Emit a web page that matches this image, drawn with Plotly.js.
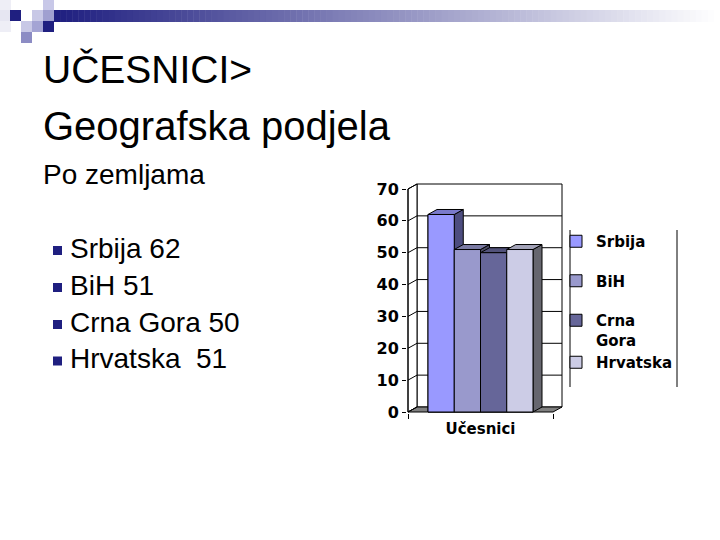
<!DOCTYPE html>
<html><head><meta charset="utf-8">
<script src="https://cdn.plot.ly/plotly-3.0.1.min.js"></script>
<style>html,body{margin:0;padding:0;background:#fff}#chart{width:720px;height:540px}</style>
</head><body><div id="chart"></div>
<script>
// ---- data ----
const titleLines = ['UČESNICI>', 'Geografska podjela'];
const subtitleText = 'Po zemljama';
const categories = ['Učesnici'];
const seriesNames = ['Srbija', 'BiH', 'Crna Gora', 'Hrvatska'];
const seriesValues = [62, 51, 50, 51];
const bulletTexts = ['Srbija 62', 'BiH 51', 'Crna Gora 50', 'Hrvatska\u00a0 51'];
const yTickVals = [0, 10, 20, 30, 40, 50, 60, 70];
const yTickText = ['0', '10', '20', '30', '40', '50', '60', '70'];

// ---- styles ----
const frontColors = ['#9999FF', '#9999CC', '#666699', '#CCCCE6'];
const topColors = ['#7A7ACC', '#7A7AA3', '#52527A', '#A3A3B8'];
const sideColors = ['#4D4D80', '#4D4D66', '#33334D', '#66666F'];
const legendGroups = ['g0', 'g1', 'g2', 'g2'];
const navy = '#1F1F80';

// ---- geometry (pixels) ----
const L = 407, R = 563, T = 183, B = 413;
const W = R - L, H = B - T;
const XPPU = 145, YPPU = 223 / 70;
const DX = 9 / XPPU, DY = 5 / YPPU;
const YMAX = 70;
const BARGAP = 1 - 105 / 145;
const px = v => (v - L) / W;
const py = v => (B - v) / H;

const traces = [];
const G = 1 - BARGAP, w = G / seriesNames.length;
seriesNames.forEach((n, i) => {
  traces.push({
    type: 'bar', x: categories.map((c, k) => k), y: [seriesValues[i]],
    name: n.replace(' ', '<br>'), legendgroup: legendGroups[i],
    marker: {color: frontColors[i], line: {color: '#000', width: 1}},
    hoverinfo: 'name+y'
  });
});
seriesNames.forEach((n, i) => {
  const x0 = -G / 2 + i * w, x1 = x0 + w, v = seriesValues[i];
  const face = (xs, ys, col) => ({
    type: 'scatter', mode: 'lines', x: xs, y: ys, fill: 'toself', fillcolor: col,
    line: {color: '#000', width: 1}, showlegend: false, hoverinfo: 'skip'
  });
  traces.push(face([x1, x1, x1 + DX, x1 + DX, x1], [0, v, v + DY, DY, 0], sideColors[i]));
  traces.push(face([x0, x1, x1 + DX, x0 + DX, x0], [v, v, v + DY, v + DY, v], topColors[i]));
  traces.push(face([x0, x1, x1, x0, x0], [0, 0, v, v, 0], frontColors[i]));
});

// ---- shapes ----
const shapes = [];
const xl = -0.5, xr = 0.5;
// back wall
shapes.push({type: 'rect', xref: 'x', yref: 'y', layer: 'below', x0: xl + DX, x1: xr + DX, y0: DY, y1: YMAX + DY,
  fillcolor: '#fff', line: {color: '#000', width: 1}});
// left wall
shapes.push({type: 'path', xref: 'x', yref: 'y', layer: 'below',
  path: `M${xl},0 L${xl},${YMAX} L${xl + DX},${YMAX + DY} L${xl + DX},${DY} Z`,
  fillcolor: '#fff', line: {color: '#000', width: 1}});
// floor
shapes.push({type: 'path', xref: 'x', yref: 'y', layer: 'below',
  path: `M${xl},0 L${xr},0 L${xr + DX},${DY} L${xl + DX},${DY} Z`,
  fillcolor: '#808080', line: {color: '#000', width: 1}});
// gridlines
yTickVals.forEach(v => {
  if (v > 0 && v < YMAX) {
    shapes.push({type: 'line', xref: 'x', yref: 'y', layer: 'below', x0: xl + DX, x1: xr + DX, y0: v + DY, y1: v + DY,
      line: {color: '#000', width: 1}});
  }
  shapes.push({type: 'line', xref: 'x', yref: 'y', layer: 'below', x0: xl, x1: xl + DX, y0: v, y1: v + DY,
    line: {color: '#000', width: 1}});
});
// front axis line
shapes.push({type: 'line', xref: 'x', yref: 'y', layer: 'above', x0: xl, x1: xl, y0: 0, y1: YMAX,
  line: {color: '#000', width: 1}});
// legend frame (side lines)
[570, 677].forEach(xp => shapes.push({type: 'line', xref: 'paper', yref: 'paper', x0: px(xp), x1: px(xp),
  y0: py(230), y1: py(387), line: {color: '#000', width: 1}}));

// top-left decoration
const gx0 = 54, gx1 = 720, steps = 110;
for (let k = 0; k < steps; k++) {
  const t = k / (steps - 1);
  const r = Math.round(31 + (255 - 31) * t), g = Math.round(31 + (255 - 31) * t), b = Math.round(128 + (255 - 128) * t);
  const a = gx0 + (gx1 - gx0) * k / steps, c = gx0 + (gx1 - gx0) * (k + 1) / steps + 0.5;
  shapes.push({type: 'rect', xref: 'paper', yref: 'paper', layer: 'below', x0: px(a), x1: px(c), y0: py(22), y1: py(10),
    fillcolor: `rgb(${r},${g},${b})`, line: {width: 0}});
}
const squares = [
  [0, 0, '#EEEEF6'], [43, 0, '#C8C8E8'],
  [0, 10, '#E6E6F2'], [10, 10, navy], [32, 10, '#C8C8E6'], [43, 10, '#A0A0D0'],
  [0, 21, '#EEEEF6'], [21, 21, '#C8C8E6'], [32, 21, '#A4A4D4'], [43, 21, navy],
  [21, 32, '#8C8CC4']
];
squares.forEach(([sx, sy, col]) => shapes.push({type: 'rect', xref: 'paper', yref: 'paper', layer: 'below',
  x0: px(sx), x1: px(sx + 11), y0: py(sy + 11), y1: py(sy), fillcolor: col, line: {width: 0}}));

// bullets
const bulletBase = [258, 295, 332, 368.5];
bulletBase.forEach(bl => shapes.push({type: 'rect', xref: 'paper', yref: 'paper',
  x0: px(53), x1: px(62), y0: py(bl - 3), y1: py(bl - 12), fillcolor: navy, line: {width: 0}}));

// ---- annotations ----
const ann = [];
const txt = (text, x, y, size) => ({xref: 'paper', yref: 'paper', x: px(x), y: py(y), xanchor: 'left', yanchor: 'middle',
  showarrow: false, text: text, font: {family: 'Liberation Sans, Arial, sans-serif', size: size, color: '#000'}});
ann.push(txt(titleLines[0], 41, 83.3 - 0.3465 * 39, 39));
ann.push(txt(titleLines[1], 41, 140 - 0.3465 * 40, 40));
ann.push(txt(subtitleText, 41, 184 - 0.3465 * 28, 28));
bulletTexts.forEach((t, i) => ann.push(txt(t, 68, bulletBase[i] - 0.3465 * 28, 28)));

const boldFont = s => ({family: 'DejaVu Sans, Verdana, sans-serif', size: s, color: '#000', weight: 'bold'});

const layout = {
  width: 720, height: 540,
  margin: {l: L, r: 720 - R, t: T, b: 540 - B, pad: 0, autoexpand: false},
  paper_bgcolor: '#fff', plot_bgcolor: 'rgba(0,0,0,0)',
  barmode: 'group', bargap: BARGAP, bargroupgap: 0,
  showlegend: true,
  legend: {xref: 'container', yref: 'container', x: 556 / 720, y: 1 - 225 / 540, xanchor: 'left', yanchor: 'top',
    font: boldFont(15), traceorder: 'grouped', tracegroupgap: 17, valign: 'top', bgcolor: 'rgba(0,0,0,0)'},
  xaxis: {type: 'linear', range: [-0.5 - 1 / XPPU, 0.5 + DX + 1 / XPPU], fixedrange: true, automargin: false,
    tickmode: 'array', tickvals: categories.map((c, k) => k), ticktext: categories, ticks: '', ticklabelstandoff: 5,
    minor: {tickmode: 'array', tickvals: [-0.5, 0.5], ticks: 'outside', ticklen: 5, tickcolor: '#000'},
    showgrid: false, zeroline: false, showline: false, tickfont: boldFont(15)},
  yaxis: {range: [-1 / YPPU, YMAX + DY + 1 / YPPU], fixedrange: true, automargin: false,
    tickmode: 'array', tickvals: yTickVals, ticktext: yTickText, ticks: 'outside', ticklen: 4, tickcolor: '#000',
    showgrid: false, zeroline: false, showline: false, tickfont: boldFont(16)},
  shapes: shapes,
  annotations: ann
};
Plotly.newPlot('chart', traces, layout, {displayModeBar: false, staticPlot: true});
</script></body></html>
